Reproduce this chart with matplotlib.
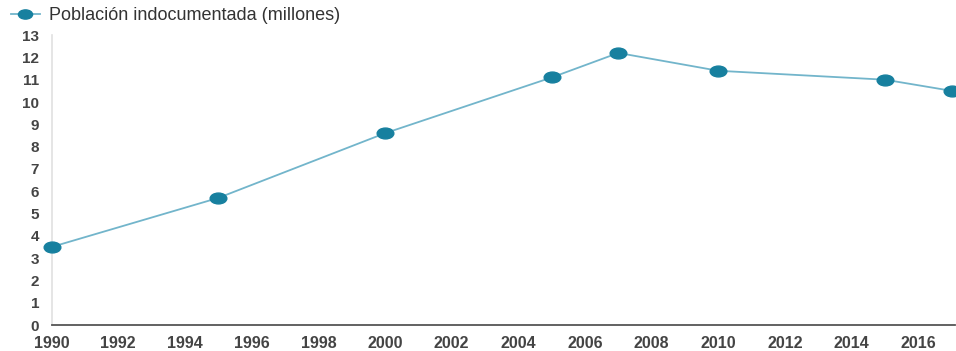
import matplotlib.pyplot as plt
from matplotlib.path import Path
from matplotlib.transforms import Affine2D

plt.rcParams["font.family"] = ["Liberation Sans", "DejaVu Sans"]

YEARS = [1990, 1995, 2000, 2005, 2007, 2010, 2015, 2017]
UNDOCUMENTED = [3.5, 5.7, 8.6, 11.1, 12.2, 11.4, 11.0, 10.5]
X_TICKS = list(range(1990, 2017, 2))
Y_TICKS = list(range(0, 14))
LABEL = "Población indocumentada (millones)"

LINE = "#72b5cb"
DOT = "#17809f"
TEXT = "#333333"

# stretched dots, the source image is squashed horizontally
ellipse = Path.unit_circle().transformed(Affine2D().scale(1.0, 0.65))

fig = plt.figure(figsize=(9.56, 3.51), dpi=100)
ax = fig.add_axes([0.054, 0.074, 0.945, 0.826])

ax.plot(YEARS, UNDOCUMENTED, color=LINE, lw=1.3, marker=ellipse,
        markersize=12, markerfacecolor=DOT, markeredgecolor=DOT,
        label=LABEL, clip_on=False, zorder=3)

ax.set_xlim(1990, 2017.1)
ax.set_ylim(0, 13)
ax.set_xticks(X_TICKS)
ax.set_yticks(Y_TICKS)
ax.tick_params(length=0, labelcolor=TEXT)
ax.tick_params(axis="y", pad=9, labelsize=11)
ax.tick_params(axis="x", pad=8, labelsize=11.5)
for lab in ax.get_xticklabels() + ax.get_yticklabels():
    lab.set_fontweight("bold")
    lab.set_color("#444444")

for s in ("top", "right"):
    ax.spines[s].set_visible(False)
ax.spines["left"].set_color("#e0e0e0")
ax.spines["left"].set_linewidth(1.2)
ax.spines["bottom"].set_color("#555555")
ax.spines["bottom"].set_linewidth(1.3)

leg = fig.legend(loc="upper left", bbox_to_anchor=(0.0, 1.01), frameon=False,
                 handlelength=1.6, handletextpad=0.5, fontsize=13,
                 borderaxespad=0.2, markerscale=0.85)
for t in leg.get_texts():
    t.set_color(TEXT)

fig.savefig("out.png", dpi=100, facecolor="white")
